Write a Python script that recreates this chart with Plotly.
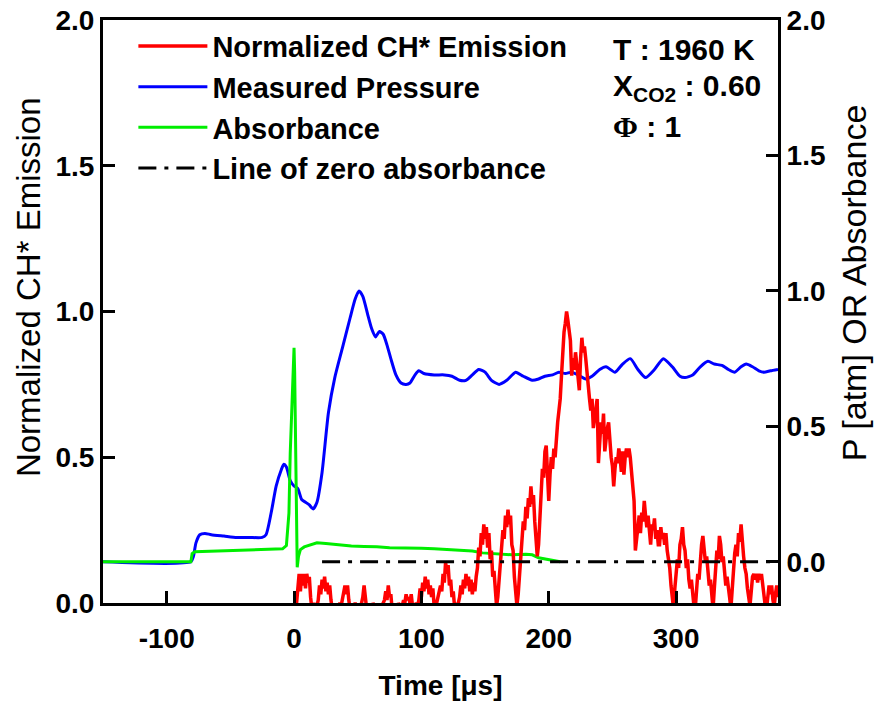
import plotly.graph_objects as go

# ---- CH* emission (normalized), sampled every 1 us from 0 to 380 us ----
ch_time = list(range(0, 381))
ch_emission = [
    -0.03, -0.02, 0.00, 0.06, 0.10, 0.04, 0.10, 0.06, 0.10, 0.05,
    0.10, 0.07, 0.09, 0.02, -0.02, -0.01, 0.00, -0.02, -0.01, 0.01,
    0.06, 0.03, 0.08, 0.05, 0.09, 0.04, 0.07, 0.03, 0.06, 0.01,
    -0.02, -0.01, -0.02, -0.01, -0.02, -0.01, 0.00, -0.01, 0.02, 0.04,
    0.06, 0.03, 0.06, 0.01, -0.02, -0.01, -0.02, -0.01, 0.00, -0.01,
    -0.02, -0.02, -0.01, 0.00, 0.02, 0.06, 0.02, -0.02, -0.01, -0.02,
    -0.01, -0.02, 0.00, -0.01, -0.02, -0.01, -0.02, -0.01, -0.02, -0.01,
    0.00, 0.01, 0.04, 0.01, 0.06, 0.02, 0.03, -0.02, -0.01, -0.02,
    -0.01, -0.02, 0.00, -0.01, -0.02, -0.01, 0.01, 0.00, 0.03, 0.01,
    0.02, 0.00, 0.03, -0.01, -0.02, -0.01, 0.00, -0.01, 0.01, 0.05,
    0.02, 0.07, 0.04, 0.09, 0.05, 0.08, 0.03, 0.06, 0.02, 0.05,
    -0.01, -0.02, 0.00, 0.02, 0.04, 0.06, 0.04, 0.10, 0.07, 0.14,
    0.10, 0.13, 0.06, 0.08, 0.02, 0.04, -0.01, 0.00, -0.02, 0.00,
    0.02, 0.06, 0.03, 0.08, 0.05, 0.10, 0.06, 0.09, 0.04, 0.08,
    0.03, 0.07, 0.04, 0.09, 0.12, 0.19, 0.16, 0.24, 0.20, 0.27,
    0.22, 0.26, 0.19, 0.24, 0.15, 0.18, 0.09, 0.11, 0.03, -0.01,
    0.02, 0.08, 0.14, 0.20, 0.25, 0.22, 0.30, 0.26, 0.32, 0.27,
    0.30, 0.20, 0.18, 0.09, 0.05, -0.01, 0.03, 0.10, 0.16, 0.22,
    0.28, 0.25, 0.33, 0.29, 0.36, 0.33, 0.40, 0.34, 0.37, 0.28,
    0.22, 0.16, 0.20, 0.30, 0.38, 0.46, 0.43, 0.52, 0.54, 0.40,
    0.35, 0.44, 0.50, 0.46, 0.53, 0.50, 0.57, 0.62, 0.66, 0.70,
    0.78, 0.86, 0.93, 0.96, 1.00, 0.97, 0.94, 0.90, 0.78, 0.84,
    0.80, 0.86, 0.82, 0.76, 0.73, 0.84, 0.91, 0.86, 0.88, 0.84,
    0.78, 0.72, 0.70, 0.66, 0.70, 0.60, 0.64, 0.68, 0.70, 0.48,
    0.56, 0.62, 0.58, 0.65, 0.52, 0.57, 0.60, 0.62, 0.55, 0.50,
    0.47, 0.40, 0.46, 0.50, 0.48, 0.53, 0.50, 0.45, 0.52, 0.44,
    0.50, 0.53, 0.50, 0.53, 0.50, 0.45, 0.40, 0.35, 0.18, 0.22,
    0.28, 0.30, 0.24, 0.31, 0.28, 0.35, 0.30, 0.26, 0.30, 0.24,
    0.20, 0.27, 0.25, 0.29, 0.22, 0.25, 0.20, 0.20, 0.26, 0.22,
    0.24, 0.20, 0.24, 0.18, 0.15, 0.12, 0.06, 0.02, -0.02, 0.05,
    0.10, 0.15, 0.12, 0.20, 0.22, 0.26, 0.20, 0.18, 0.12, 0.15,
    0.08, 0.05, 0.08, 0.03, -0.01, -0.02, 0.04, 0.10, 0.08, 0.16,
    0.20, 0.23, 0.18, 0.14, 0.16, 0.12, 0.06, 0.08, 0.02, -0.02,
    0.05, 0.12, 0.18, 0.15, 0.23, 0.20, 0.14, 0.16, 0.12, 0.06,
    0.09, 0.04, 0.02, -0.02, 0.06, 0.12, 0.17, 0.20, 0.16, 0.24,
    0.21, 0.27, 0.20, 0.16, 0.12, 0.10, 0.05, 0.02, -0.01, 0.04,
    0.09, 0.10, 0.08, 0.10, 0.07, 0.10, 0.08, 0.10, 0.06, 0.03,
    -0.01, -0.02, 0.02, 0.06, 0.03, 0.06, 0.01, -0.01, 0.03, 0.06,
    0.02,
]

# ---- measured pressure [atm] ----
p_time = [-150, -81, -79, -77, -74, -70, -65, -55, -45, -35, -25, -22, -18, -14,
          -10, -8, -6, -3, 0, 3, 6, 9, 12, 15, 18, 22, 27, 32, 38, 44, 48, 51,
          54, 58, 61, 64, 67, 70, 73, 76, 80, 84, 88, 91, 95, 98, 102, 110, 118,
          124, 130, 135, 140, 145, 150, 155, 161, 167, 174, 180, 187, 192, 197,
          203, 208, 213, 218, 223, 229, 234, 240, 245, 252, 258, 264, 270, 276,
          283, 290, 297, 303, 307, 313, 319, 325, 330, 336, 341, 346, 351, 355,
          360, 365, 369, 374, 380]
p_atm = [0.0, 0.0, 0.02, 0.07, 0.10, 0.105, 0.10, 0.095, 0.09, 0.09, 0.09, 0.10,
         0.18, 0.28, 0.34, 0.36, 0.35, 0.30, 0.28, 0.27, 0.23, 0.22, 0.21, 0.195,
         0.22, 0.33, 0.55, 0.68, 0.79, 0.90, 0.97, 1.0, 0.98, 0.91, 0.86, 0.83,
         0.85, 0.84, 0.80, 0.75, 0.69, 0.66, 0.655, 0.66, 0.69, 0.705, 0.695,
         0.69, 0.69, 0.685, 0.67, 0.67, 0.69, 0.71, 0.70, 0.67, 0.655, 0.67,
         0.70, 0.685, 0.67, 0.675, 0.685, 0.69, 0.70, 0.695, 0.70, 0.69, 0.675,
         0.685, 0.71, 0.72, 0.70, 0.73, 0.75, 0.71, 0.68, 0.71, 0.75, 0.72,
         0.685, 0.68, 0.69, 0.72, 0.74, 0.73, 0.725, 0.71, 0.70, 0.72, 0.73,
         0.72, 0.705, 0.70, 0.705, 0.71]

# ---- absorbance ----
a_time = [-150, -81, -80, -78, -60, -40, -20, -9, -6, -4, -3, -2, -1, 0, 0.5, 1,
          1.5, 2.5, 3.5, 5, 8, 12, 18, 25, 35, 45, 55, 65, 75, 88, 100, 110, 120,
          132, 140, 148, 160, 171, 182, 187, 192, 200, 205, 209]
absorbance = [0.0, 0.0, 0.03, 0.037, 0.04, 0.043, 0.046, 0.048, 0.06, 0.18, 0.40,
              0.55, 0.65, 0.79, 0.70, 0.45, 0.20, -0.02, 0.02, 0.045, 0.055, 0.06,
              0.07, 0.068, 0.062, 0.058, 0.057, 0.056, 0.052, 0.052, 0.05, 0.048,
              0.045, 0.044, 0.04, 0.033, 0.03, 0.026, 0.028, 0.026, 0.015, 0.008,
              0.003, 0.0]

# ---- zero-absorbance reference line ----
zero_time = [22, 380]
zero_level = [0.0, 0.0]

# ---- axis ticks ----
time_ticks = [-100, 0, 100, 200, 300]
time_tick_text = ["-100", "0", "100", "200", "300"]
value_ticks = [0.0, 0.5, 1.0, 1.5, 2.0]

FONT = "Liberation Sans, Arial, sans-serif"

fig = go.Figure()

fig.add_trace(go.Scatter(
    x=p_time, y=p_atm, mode="lines", name="Measured Pressure",
    line=dict(color="#0000FF", width=3, shape="spline", smoothing=0.6),
    yaxis="y", legendrank=2))
fig.add_trace(go.Scatter(
    x=a_time, y=absorbance, mode="lines", name="Absorbance",
    line=dict(color="#00EE00", width=3),
    yaxis="y", legendrank=3))
fig.add_trace(go.Scatter(
    x=ch_time, y=ch_emission, mode="lines", name="Normalized CH* Emission",
    line=dict(color="#FF0000", width=3.5),
    yaxis="y2", legendrank=1))
fig.add_trace(go.Scatter(
    x=zero_time, y=zero_level, mode="lines", name="Line of zero absorbance",
    line=dict(color="black", width=3, dash="18px,8px,4px,8px"),
    yaxis="y3", legendrank=4))

tick_font = dict(family=FONT, size=28, color="black", weight="bold")

fig.update_layout(
    width=882, height=702,
    margin=dict(l=103, r=104, t=20, b=99, autoexpand=False),
    paper_bgcolor="white", plot_bgcolor="white",
    font=dict(family=FONT, color="black"),
    showlegend=True,
    legend=dict(
        x=0.045, y=0.999, xanchor="left", yanchor="top",
        bgcolor="rgba(0,0,0,0)", borderwidth=0,
        font=dict(family=FONT, size=29, color="black", weight="bold"),
        tracegroupgap=0, itemwidth=69,
    ),
    xaxis=dict(
        range=[-150, 380], tickvals=time_ticks, ticktext=time_tick_text,
        showline=True, linecolor="black", linewidth=3, mirror=True,
        ticks="inside", ticklen=12, tickwidth=3, tickcolor="black",
        showgrid=False, zeroline=False, ticklabelstandoff=8,
        tickfont=tick_font, automargin=False,
        title=dict(text="Time [μs]", standoff=23,
                   font=dict(family=FONT, size=28, color="black", weight="bold")),
    ),
    yaxis=dict(
        range=[-0.152, 2.0], tickvals=value_ticks,
        tickformat=".1f", side="right", automargin=False,
        showline=True, linecolor="black", linewidth=3,
        ticks="inside", ticklen=12, tickwidth=3, tickcolor="black",
        showgrid=False, zeroline=False, tickfont=tick_font,
    ),
    yaxis2=dict(
        range=[0, 2.0], tickvals=value_ticks, tickformat=".1f",
        overlaying="y", side="left", automargin=False,
        showline=True, linecolor="black", linewidth=3,
        ticks="inside", ticklen=12, tickwidth=3, tickcolor="black",
        showgrid=False, zeroline=False, tickfont=tick_font,
    ),
    yaxis3=dict(overlaying="y", matches="y", visible=False),
)

# vertical axis titles, set slightly above the axis centre
fig.add_annotation(
    text="Normalized CH* Emission", textangle=-90,
    x=-0.111, y=0.542, xref="paper", yref="paper",
    xanchor="center", yanchor="middle", showarrow=False,
    font=dict(family=FONT, size=33, color="black"))
fig.add_annotation(
    text="P [atm] OR Absorbance", textangle=-90,
    x=1.113, y=0.549, xref="paper", yref="paper",
    xanchor="center", yanchor="middle", showarrow=False,
    font=dict(family=FONT, size=34, color="black"))

# run conditions
conditions = [
    ("T : 1960 K", 0.950),
    ("X<sub>CO2</sub> : 0.60", 0.885),
    ("<span style=\"font-family:'Liberation Serif'\">Φ</span> : 1", 0.8165),
]
for text, ypos in conditions:
    fig.add_annotation(
        x=0.752, y=ypos, xref="paper", yref="paper",
        xanchor="left", yanchor="middle", showarrow=False, text=text,
        font=dict(family=FONT, size=30, color="black", weight="bold"))

fig.write_html("out.html")
